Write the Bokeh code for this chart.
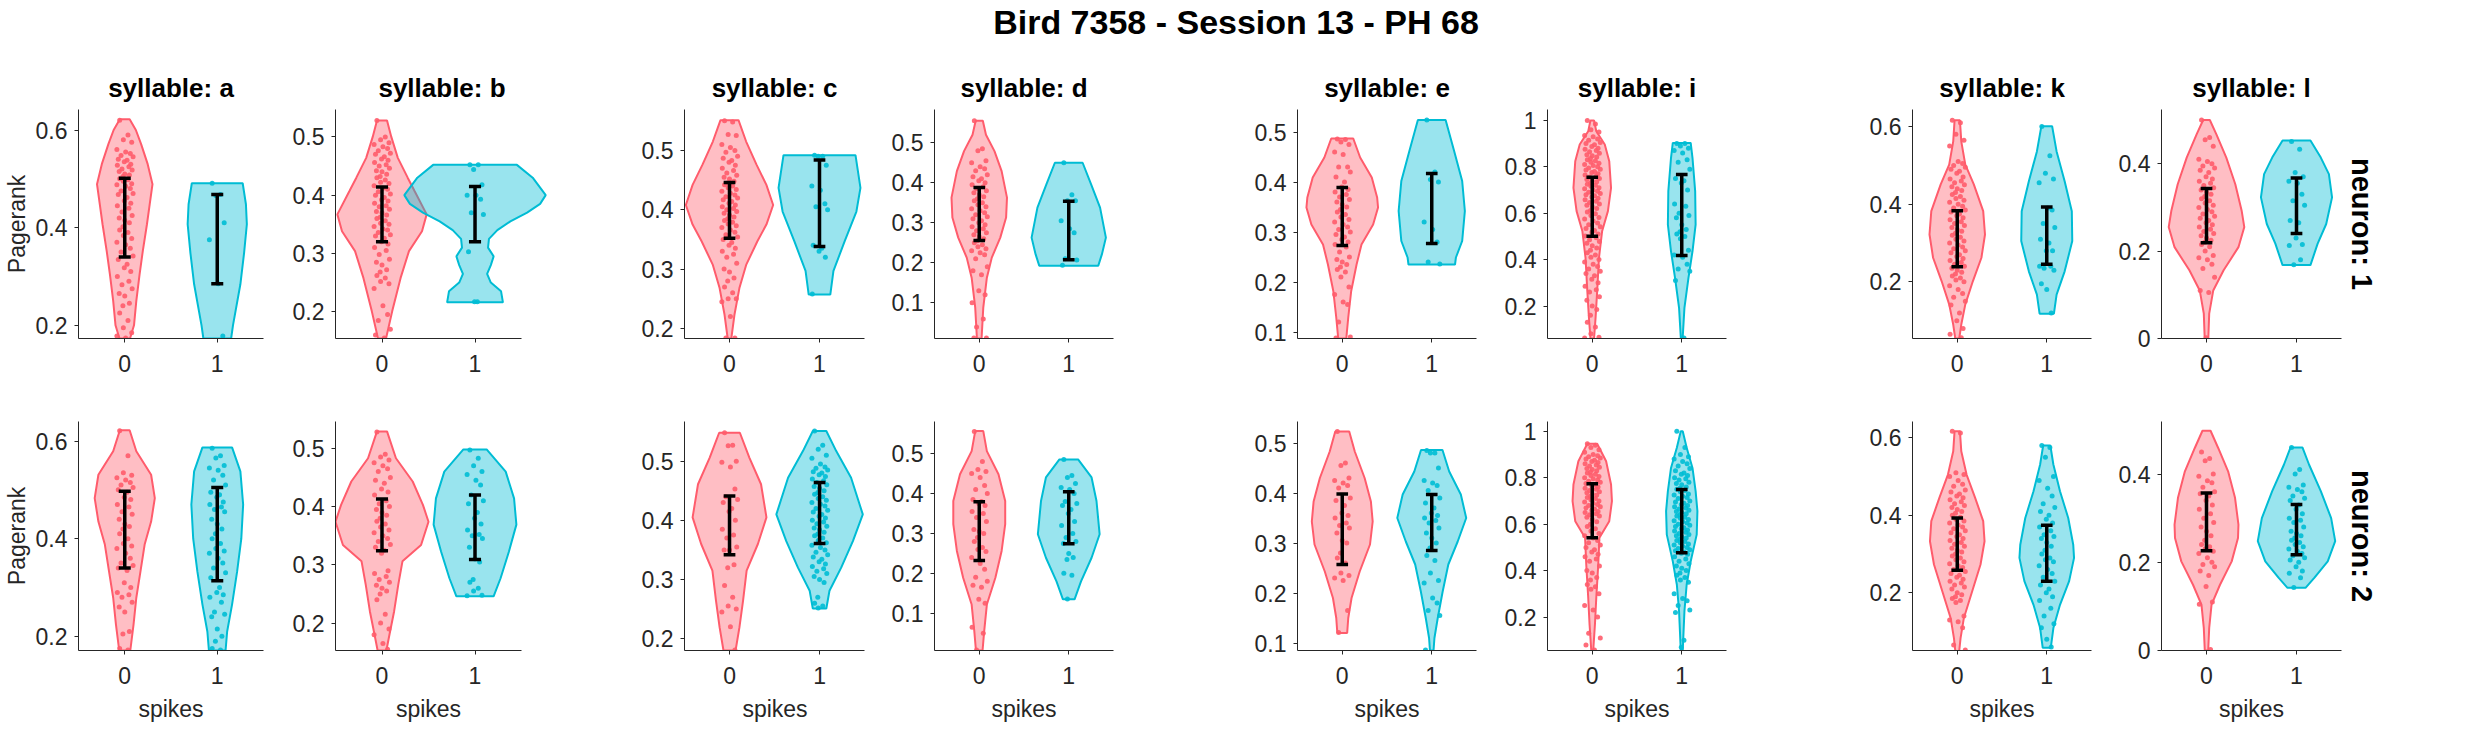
from bokeh.plotting import figure
from bokeh.layouts import column, row
from bokeh.models import Range1d, FixedTicker, CustomJSTickFormatter, Title
from bokeh.embed import file_html
from bokeh.resources import INLINE

SYLLABLES = ["a", "b", "c", "d", "e", "i", "k", "l"]
SPIKES = [0, 1]

# y extents and ticks of each syllable column, per neuron row
YLIM_N1 = [(0.173, 0.642), (0.154, 0.547), (0.183, 0.569), (0.011, 0.583),
           (0.087, 0.545), (0.06, 1.047), (0.054, 0.644), (0.0, 0.524)]
YLIM_N2 = [(0.171, 0.640), (0.153, 0.546), (0.180, 0.567), (0.007, 0.580),
           (0.085, 0.543), (0.056, 1.042), (0.051, 0.642), (0.0, 0.519)]
YTICKS = [[0.2, 0.4, 0.6], [0.2, 0.3, 0.4, 0.5], [0.2, 0.3, 0.4, 0.5],
          [0.1, 0.2, 0.3, 0.4, 0.5], [0.1, 0.2, 0.3, 0.4, 0.5],
          [0.2, 0.4, 0.6, 0.8, 1], [0.2, 0.4, 0.6], [0, 0.2, 0.4]]

# error bars (lower / upper) per syllable
ERR_LO_N1_S0 = [0.340, 0.320, 0.352, 0.256, 0.273, 0.501, 0.239, 0.219]
ERR_HI_N1_S0 = [0.501, 0.414, 0.446, 0.388, 0.389, 0.755, 0.383, 0.343]
ERR_LO_N1_S1 = [0.285, 0.320, 0.338, 0.208, 0.277, 0.418, 0.245, 0.240]
ERR_HI_N1_S1 = [0.468, 0.415, 0.484, 0.354, 0.417, 0.767, 0.393, 0.367]
ERR_LO_N2_S0 = [0.340, 0.324, 0.342, 0.232, 0.257, 0.541, 0.258, 0.226]
ERR_HI_N2_S0 = [0.497, 0.413, 0.441, 0.379, 0.398, 0.774, 0.393, 0.357]
ERR_LO_N2_S1 = [0.314, 0.309, 0.361, 0.274, 0.285, 0.477, 0.230, 0.217]
ERR_HI_N2_S1 = [0.505, 0.420, 0.464, 0.404, 0.397, 0.749, 0.374, 0.331]

# violin outlines: pagerank levels and half widths (in x units)
SHAPE_Y_N1_S0 = [
    [0.173, 0.20, 0.25, 0.304, 0.352, 0.407, 0.448, 0.489, 0.530, 0.571, 0.600, 0.622],
    [0.154, 0.201, 0.258, 0.304, 0.338, 0.367, 0.407, 0.430, 0.464, 0.50, 0.528],
    [0.183, 0.223, 0.268, 0.307, 0.347, 0.375, 0.408, 0.442, 0.476, 0.515, 0.551],
    [0.011, 0.088, 0.163, 0.213, 0.263, 0.313, 0.363, 0.429, 0.479, 0.52, 0.555],
    [0.087, 0.129, 0.182, 0.235, 0.275, 0.315, 0.349, 0.369, 0.409, 0.449, 0.487],
    [0.06, 0.149, 0.264, 0.407, 0.522, 0.609, 0.709, 0.824, 0.896, 0.953, 1.0],
    [0.054, 0.09, 0.142, 0.202, 0.262, 0.322, 0.382, 0.451, 0.502, 0.562, 0.616],
    [0.0, 0.057, 0.110, 0.156, 0.209, 0.255, 0.293, 0.353, 0.414, 0.467, 0.50],
]
SHAPE_W_N1_S0 = [
    [0.057, 0.10, 0.125, 0.16, 0.195, 0.24, 0.27, 0.30, 0.248, 0.177, 0.12, 0.053],
    [0.043, 0.11, 0.20, 0.29, 0.43, 0.48, 0.35, 0.276, 0.17, 0.10, 0.054],
    [0.02, 0.055, 0.11, 0.185, 0.31, 0.41, 0.485, 0.41, 0.30, 0.185, 0.10],
    [0.026, 0.045, 0.085, 0.14, 0.235, 0.30, 0.31, 0.25, 0.17, 0.075, 0.04],
    [0.045, 0.067, 0.10, 0.16, 0.215, 0.345, 0.40, 0.39, 0.33, 0.20, 0.123],
    [0.02, 0.037, 0.055, 0.075, 0.11, 0.175, 0.21, 0.19, 0.14, 0.045, 0.02],
    [0.022, 0.045, 0.09, 0.175, 0.27, 0.31, 0.29, 0.185, 0.09, 0.045, 0.03],
    [0.02, 0.03, 0.075, 0.19, 0.355, 0.42, 0.39, 0.32, 0.22, 0.11, 0.037],
]
SHAPE_Y_N1_S1 = [
    [0.173, 0.20, 0.284, 0.348, 0.407, 0.448, 0.491],
    [0.216, 0.235, 0.25, 0.265, 0.28, 0.295, 0.31, 0.325, 0.34, 0.355, 0.37, 0.385, 0.40, 0.43, 0.452],
    [0.257, 0.297, 0.347, 0.397, 0.437, 0.492],
    [0.193, 0.221, 0.263, 0.338, 0.396, 0.45],
    [0.235, 0.249, 0.282, 0.342, 0.402, 0.462, 0.524],
    [0.06, 0.192, 0.321, 0.436, 0.551, 0.695, 0.839, 0.903],
    [0.118, 0.167, 0.227, 0.305, 0.382, 0.459, 0.536, 0.601],
    [0.168, 0.217, 0.262, 0.323, 0.376, 0.414, 0.453],
]
SHAPE_W_N1_S1 = [
    [0.15, 0.17, 0.25, 0.29, 0.32, 0.31, 0.275],
    [0.30, 0.28, 0.17, 0.13, 0.17, 0.20, 0.14, 0.15, 0.24, 0.38, 0.56, 0.70, 0.76, 0.62, 0.45],
    [0.12, 0.155, 0.28, 0.41, 0.455, 0.40],
    [0.33, 0.37, 0.415, 0.35, 0.25, 0.155],
    [0.26, 0.27, 0.34, 0.37, 0.34, 0.25, 0.155],
    [0.01, 0.03, 0.075, 0.12, 0.155, 0.15, 0.12, 0.10],
    [0.08, 0.11, 0.2, 0.285, 0.28, 0.2, 0.11, 0.06],
    [0.155, 0.235, 0.33, 0.395, 0.36, 0.27, 0.155],
]
SHAPE_Y_N2_S0 = [
    [0.171, 0.224, 0.279, 0.333, 0.388, 0.435, 0.483, 0.531, 0.579, 0.622],
    [0.153, 0.18, 0.22, 0.266, 0.306, 0.334, 0.374, 0.403, 0.443, 0.483, 0.529],
    [0.18, 0.219, 0.264, 0.315, 0.36, 0.405, 0.461, 0.506, 0.548],
    [0.007, 0.055, 0.122, 0.189, 0.256, 0.323, 0.381, 0.448, 0.506, 0.556],
    [0.12, 0.15, 0.19, 0.243, 0.297, 0.343, 0.383, 0.43, 0.483, 0.523],
    [0.056, 0.168, 0.283, 0.426, 0.541, 0.613, 0.699, 0.771, 0.871, 0.946],
    [0.05, 0.083, 0.135, 0.204, 0.273, 0.333, 0.385, 0.445, 0.505, 0.565, 0.617],
    [0.0, 0.051, 0.104, 0.149, 0.202, 0.255, 0.285, 0.346, 0.406, 0.459, 0.498],
]
SHAPE_W_N2_S0 = [
    [0.06, 0.095, 0.125, 0.17, 0.215, 0.285, 0.325, 0.285, 0.125, 0.053],
    [0.047, 0.08, 0.13, 0.175, 0.22, 0.42, 0.50, 0.44, 0.33, 0.15, 0.054],
    [0.067, 0.11, 0.15, 0.19, 0.315, 0.41, 0.35, 0.22, 0.115],
    [0.037, 0.055, 0.085, 0.18, 0.25, 0.29, 0.29, 0.215, 0.085, 0.045],
    [0.055, 0.067, 0.104, 0.195, 0.31, 0.34, 0.32, 0.25, 0.14, 0.078],
    [0.011, 0.03, 0.045, 0.067, 0.08, 0.19, 0.22, 0.21, 0.155, 0.055],
    [0.022, 0.037, 0.074, 0.167, 0.26, 0.305, 0.29, 0.2, 0.104, 0.045, 0.03],
    [0.019, 0.03, 0.056, 0.15, 0.28, 0.35, 0.355, 0.317, 0.24, 0.13, 0.045],
]
SHAPE_Y_N2_S1 = [
    [0.171, 0.21, 0.265, 0.333, 0.40, 0.47, 0.538, 0.587],
    [0.246, 0.277, 0.323, 0.369, 0.414, 0.46, 0.498],
    [0.251, 0.281, 0.32, 0.365, 0.41, 0.472, 0.517, 0.551],
    [0.135, 0.18, 0.239, 0.298, 0.381, 0.44, 0.485],
    [0.085, 0.11, 0.15, 0.203, 0.257, 0.303, 0.35, 0.397, 0.443, 0.486],
    [0.056, 0.225, 0.34, 0.44, 0.555, 0.656, 0.742, 0.842, 0.929, 1.0],
    [0.058, 0.109, 0.169, 0.23, 0.29, 0.324, 0.393, 0.462, 0.531, 0.58],
    [0.142, 0.165, 0.202, 0.248, 0.30, 0.361, 0.421, 0.46],
]
SHAPE_W_N2_S1 = [
    [0.09, 0.107, 0.16, 0.215, 0.26, 0.28, 0.25, 0.16],
    [0.2, 0.275, 0.365, 0.445, 0.42, 0.33, 0.125],
    [0.075, 0.11, 0.24, 0.37, 0.48, 0.35, 0.185, 0.075],
    [0.065, 0.137, 0.255, 0.345, 0.31, 0.255, 0.104],
    [0.02, 0.03, 0.067, 0.122, 0.185, 0.29, 0.385, 0.325, 0.195, 0.12],
    [0.011, 0.03, 0.055, 0.10, 0.167, 0.175, 0.155, 0.12, 0.055, 0.011],
    [0.045, 0.074, 0.148, 0.25, 0.305, 0.296, 0.24, 0.148, 0.074, 0.04],
    [0.1, 0.2, 0.347, 0.43, 0.385, 0.27, 0.14, 0.067],
]

# individual pagerank values (dots)
POINTS_N1_S0 = [
    [0.62, 0.59, 0.58, 0.575, 0.56, 0.555, 0.552, 0.548, 0.545, 0.54, 0.538, 0.535, 0.53, 0.528,
     0.525, 0.52, 0.518, 0.515, 0.51, 0.508, 0.505, 0.50, 0.498, 0.495, 0.49, 0.488, 0.485, 0.48,
     0.475, 0.47, 0.468, 0.462, 0.455, 0.45, 0.445, 0.44, 0.432, 0.425, 0.42, 0.415, 0.41, 0.402,
     0.395, 0.39, 0.384, 0.378, 0.37, 0.365, 0.358, 0.35, 0.342, 0.335, 0.325, 0.318, 0.31, 0.30,
     0.29, 0.283, 0.275, 0.265, 0.26, 0.245, 0.24, 0.225, 0.21, 0.195, 0.185, 0.178, 0.174],
    [0.528, 0.50, 0.495, 0.49, 0.487, 0.483, 0.48, 0.476, 0.472, 0.47, 0.466, 0.462, 0.46, 0.456,
     0.452, 0.45, 0.446, 0.442, 0.44, 0.436, 0.432, 0.43, 0.426, 0.422, 0.42, 0.416, 0.412, 0.41,
     0.406, 0.402, 0.40, 0.396, 0.392, 0.39, 0.386, 0.382, 0.38, 0.376, 0.372, 0.37, 0.366, 0.362,
     0.36, 0.356, 0.352, 0.35, 0.346, 0.342, 0.34, 0.336, 0.332, 0.33, 0.326, 0.32, 0.316, 0.31,
     0.305, 0.298, 0.29, 0.285, 0.28, 0.272, 0.268, 0.262, 0.258, 0.252, 0.248, 0.24, 0.21, 0.195,
     0.185, 0.17, 0.16, 0.155],
    [0.55, 0.548, 0.527, 0.525, 0.51, 0.505, 0.50, 0.497, 0.49, 0.487, 0.483, 0.48, 0.475, 0.47,
     0.466, 0.462, 0.458, 0.455, 0.452, 0.448, 0.445, 0.442, 0.44, 0.437, 0.434, 0.431, 0.428, 0.425,
     0.422, 0.42, 0.417, 0.414, 0.411, 0.408, 0.405, 0.402, 0.40, 0.397, 0.394, 0.391, 0.388, 0.385,
     0.382, 0.379, 0.376, 0.373, 0.37, 0.366, 0.362, 0.358, 0.354, 0.35, 0.345, 0.34, 0.335, 0.33,
     0.325, 0.32, 0.31, 0.30, 0.295, 0.285, 0.28, 0.27, 0.26, 0.25, 0.25, 0.245, 0.22, 0.184, 0.184],
    [0.555, 0.485, 0.48, 0.455, 0.45, 0.44, 0.435, 0.43, 0.42, 0.415, 0.41, 0.405, 0.40, 0.395,
     0.39, 0.385, 0.38, 0.375, 0.37, 0.365, 0.36, 0.355, 0.35, 0.345, 0.34, 0.335, 0.33, 0.325,
     0.32, 0.315, 0.31, 0.305, 0.30, 0.295, 0.29, 0.285, 0.28, 0.275, 0.27, 0.265, 0.26, 0.255,
     0.25, 0.245, 0.24, 0.235, 0.23, 0.225, 0.22, 0.21, 0.19, 0.18, 0.17, 0.13, 0.12, 0.10, 0.06,
     0.04, 0.012, 0.012],
    [0.486, 0.485, 0.48, 0.475, 0.46, 0.455, 0.43, 0.43, 0.42, 0.41, 0.40, 0.39, 0.385, 0.38, 0.375,
     0.37, 0.365, 0.36, 0.355, 0.35, 0.345, 0.34, 0.335, 0.33, 0.325, 0.32, 0.315, 0.31, 0.305, 0.30,
     0.295, 0.29, 0.285, 0.28, 0.275, 0.27, 0.26, 0.25, 0.245, 0.24, 0.235, 0.23, 0.225, 0.22, 0.21,
     0.19, 0.175, 0.16, 0.155, 0.12, 0.09, 0.088],
    [1.0, 0.985, 0.96, 0.95, 0.935, 0.93, 0.92, 0.915, 0.905, 0.9, 0.895, 0.888, 0.88, 0.876, 0.87,
     0.865, 0.858, 0.852, 0.848, 0.842, 0.836, 0.83, 0.826, 0.82, 0.815, 0.81, 0.806, 0.8, 0.795,
     0.79, 0.786, 0.78, 0.776, 0.77, 0.765, 0.76, 0.756, 0.75, 0.745, 0.74, 0.736, 0.73, 0.725, 0.72,
     0.716, 0.71, 0.705, 0.7, 0.695, 0.69, 0.685, 0.68, 0.675, 0.67, 0.664, 0.658, 0.652, 0.646, 0.64,
     0.634, 0.628, 0.62, 0.612, 0.605, 0.598, 0.59, 0.582, 0.575, 0.566, 0.558, 0.55, 0.542, 0.534,
     0.526, 0.518, 0.51, 0.502, 0.494, 0.486, 0.478, 0.47, 0.46, 0.45, 0.44, 0.43, 0.42, 0.41, 0.4,
     0.39, 0.38, 0.37, 0.36, 0.35, 0.34, 0.33, 0.315, 0.3, 0.285, 0.27, 0.26, 0.24, 0.225, 0.2, 0.185,
     0.16, 0.13, 0.11, 0.08, 0.065, 0.062],
    [0.616, 0.61, 0.58, 0.565, 0.55, 0.51, 0.505, 0.50, 0.495, 0.49, 0.485, 0.48, 0.47, 0.465, 0.46,
     0.455, 0.45, 0.445, 0.44, 0.435, 0.43, 0.425, 0.42, 0.415, 0.41, 0.405, 0.40, 0.395, 0.39, 0.385,
     0.38, 0.375, 0.37, 0.365, 0.36, 0.355, 0.35, 0.345, 0.34, 0.335, 0.33, 0.325, 0.32, 0.315, 0.31,
     0.305, 0.30, 0.295, 0.29, 0.285, 0.28, 0.275, 0.27, 0.265, 0.26, 0.255, 0.25, 0.245, 0.24, 0.235,
     0.23, 0.225, 0.22, 0.215, 0.21, 0.205, 0.2, 0.19, 0.18, 0.17, 0.16, 0.15, 0.14, 0.12, 0.1, 0.08,
     0.065, 0.056],
    [0.50, 0.46, 0.455, 0.44, 0.41, 0.405, 0.40, 0.395, 0.39, 0.385, 0.38, 0.37, 0.365, 0.36, 0.355,
     0.35, 0.345, 0.34, 0.335, 0.33, 0.325, 0.32, 0.315, 0.31, 0.305, 0.30, 0.295, 0.29, 0.285, 0.28,
     0.275, 0.27, 0.265, 0.26, 0.255, 0.25, 0.245, 0.24, 0.235, 0.23, 0.225, 0.22, 0.215, 0.21, 0.2,
     0.19, 0.185, 0.18, 0.17, 0.16, 0.14, 0.11, 0.105, 0.002],
]
POINTS_N1_S1 = [
    [0.491, 0.468, 0.466, 0.41, 0.375, 0.285, 0.178],
    [0.452, 0.452, 0.444, 0.418, 0.40, 0.40, 0.393, 0.37, 0.367, 0.303, 0.217, 0.217],
    [0.492, 0.49, 0.49, 0.475, 0.44, 0.433, 0.41, 0.405, 0.40, 0.34, 0.335, 0.33, 0.32, 0.258],
    [0.45, 0.37, 0.355, 0.355, 0.305, 0.285, 0.275, 0.21, 0.207, 0.194],
    [0.524, 0.42, 0.405, 0.40, 0.32, 0.305, 0.28, 0.24, 0.236],
    [0.9, 0.9, 0.89, 0.88, 0.87, 0.86, 0.83, 0.82, 0.79, 0.75, 0.74, 0.73, 0.70, 0.64, 0.63, 0.60,
     0.59, 0.58, 0.55, 0.53, 0.52, 0.51, 0.50, 0.49, 0.44, 0.42, 0.41, 0.38, 0.36, 0.35, 0.31, 0.062],
    [0.6, 0.525, 0.48, 0.465, 0.455, 0.39, 0.385, 0.35, 0.34, 0.31, 0.30, 0.28, 0.28, 0.24, 0.24,
     0.235, 0.23, 0.195, 0.18, 0.12],
    [0.451, 0.433, 0.38, 0.37, 0.36, 0.355, 0.33, 0.315, 0.305, 0.27, 0.265, 0.23, 0.215, 0.213,
     0.18, 0.169],
]
POINTS_N2_S0 = [
    [0.621, 0.57, 0.535, 0.53, 0.525, 0.52, 0.515, 0.51, 0.505, 0.50, 0.495, 0.485, 0.48, 0.47,
     0.465, 0.455, 0.45, 0.44, 0.43, 0.425, 0.42, 0.41, 0.40, 0.39, 0.385, 0.38, 0.37, 0.36, 0.35,
     0.345, 0.34, 0.335, 0.31, 0.30, 0.29, 0.285, 0.28, 0.27, 0.26, 0.25, 0.21, 0.205, 0.175, 0.172],
    [0.528, 0.49, 0.485, 0.48, 0.475, 0.47, 0.465, 0.46, 0.45, 0.445, 0.44, 0.43, 0.425, 0.42, 0.41,
     0.405, 0.40, 0.395, 0.39, 0.385, 0.38, 0.375, 0.37, 0.365, 0.36, 0.355, 0.35, 0.345, 0.34, 0.335,
     0.33, 0.325, 0.32, 0.29, 0.285, 0.28, 0.275, 0.27, 0.265, 0.26, 0.255, 0.25, 0.24, 0.215, 0.2,
     0.19, 0.18, 0.165, 0.155],
    [0.548, 0.527, 0.526, 0.50, 0.498, 0.49, 0.453, 0.44, 0.435, 0.43, 0.42, 0.415, 0.40, 0.385,
     0.375, 0.37, 0.355, 0.35, 0.35, 0.325, 0.32, 0.29, 0.27, 0.255, 0.25, 0.245, 0.22, 0.181],
    [0.555, 0.48, 0.46, 0.455, 0.45, 0.44, 0.42, 0.41, 0.40, 0.385, 0.38, 0.375, 0.37, 0.355, 0.35,
     0.34, 0.33, 0.31, 0.305, 0.30, 0.29, 0.28, 0.265, 0.26, 0.255, 0.24, 0.225, 0.21, 0.19, 0.18,
     0.17, 0.165, 0.135, 0.125, 0.065, 0.05, 0.008],
    [0.523, 0.46, 0.455, 0.43, 0.425, 0.42, 0.415, 0.41, 0.39, 0.385, 0.375, 0.36, 0.355, 0.35, 0.34,
     0.335, 0.33, 0.32, 0.305, 0.30, 0.28, 0.27, 0.26, 0.24, 0.235, 0.23, 0.225, 0.165, 0.121],
    [0.946, 0.94, 0.93, 0.92, 0.91, 0.9, 0.895, 0.89, 0.885, 0.88, 0.875, 0.87, 0.865, 0.86, 0.855,
     0.85, 0.845, 0.84, 0.835, 0.83, 0.825, 0.82, 0.815, 0.81, 0.805, 0.8, 0.795, 0.79, 0.785, 0.78,
     0.775, 0.77, 0.765, 0.76, 0.755, 0.75, 0.745, 0.74, 0.735, 0.73, 0.725, 0.72, 0.715, 0.71, 0.705,
     0.7, 0.695, 0.69, 0.685, 0.68, 0.675, 0.67, 0.665, 0.66, 0.655, 0.65, 0.645, 0.64, 0.635, 0.63,
     0.62, 0.61, 0.6, 0.59, 0.58, 0.57, 0.56, 0.55, 0.54, 0.53, 0.52, 0.51, 0.5, 0.49, 0.48, 0.47,
     0.46, 0.45, 0.44, 0.42, 0.4, 0.39, 0.37, 0.36, 0.34, 0.33, 0.32, 0.3, 0.25, 0.23, 0.2, 0.13,
     0.11, 0.08, 0.058],
    [0.617, 0.612, 0.51, 0.505, 0.5, 0.49, 0.48, 0.475, 0.465, 0.46, 0.455, 0.45, 0.445, 0.44, 0.435,
     0.43, 0.425, 0.42, 0.415, 0.41, 0.405, 0.4, 0.395, 0.39, 0.385, 0.38, 0.375, 0.37, 0.365, 0.36,
     0.355, 0.35, 0.345, 0.34, 0.335, 0.33, 0.325, 0.32, 0.315, 0.31, 0.305, 0.3, 0.295, 0.29, 0.285,
     0.28, 0.275, 0.27, 0.265, 0.26, 0.255, 0.25, 0.245, 0.24, 0.235, 0.23, 0.225, 0.22, 0.215, 0.21,
     0.2, 0.195, 0.19, 0.185, 0.18, 0.175, 0.14, 0.13, 0.125, 0.11, 0.065, 0.052],
    [0.45, 0.435, 0.43, 0.40, 0.395, 0.385, 0.38, 0.37, 0.36, 0.355, 0.35, 0.34, 0.33, 0.32, 0.31,
     0.30, 0.29, 0.28, 0.27, 0.26, 0.25, 0.24, 0.235, 0.23, 0.225, 0.22, 0.21, 0.2, 0.195, 0.19,
     0.18, 0.17, 0.145, 0.11, 0.105, 0.002],
]
POINTS_N2_S1 = [
    [0.585, 0.57, 0.565, 0.55, 0.545, 0.54, 0.53, 0.52, 0.51, 0.495, 0.49, 0.485, 0.475, 0.47, 0.465,
     0.46, 0.455, 0.44, 0.43, 0.42, 0.41, 0.40, 0.39, 0.38, 0.375, 0.37, 0.36, 0.35, 0.34, 0.33,
     0.32, 0.30, 0.29, 0.285, 0.28, 0.27, 0.25, 0.245, 0.24, 0.215, 0.2, 0.19, 0.175, 0.172],
    [0.497, 0.483, 0.47, 0.46, 0.455, 0.445, 0.437, 0.42, 0.41, 0.405, 0.39, 0.38, 0.37, 0.36, 0.352,
     0.35, 0.345, 0.33, 0.31, 0.305, 0.275, 0.27, 0.26, 0.255, 0.248, 0.247],
    [0.551, 0.527, 0.52, 0.51, 0.505, 0.495, 0.49, 0.488, 0.485, 0.482, 0.48, 0.477, 0.474, 0.47,
     0.467, 0.464, 0.46, 0.457, 0.454, 0.45, 0.447, 0.444, 0.44, 0.437, 0.434, 0.43, 0.427, 0.424,
     0.42, 0.417, 0.414, 0.41, 0.407, 0.404, 0.4, 0.397, 0.394, 0.39, 0.387, 0.384, 0.38, 0.377,
     0.374, 0.37, 0.366, 0.362, 0.358, 0.354, 0.35, 0.346, 0.342, 0.338, 0.334, 0.33, 0.326, 0.322,
     0.318, 0.314, 0.31, 0.305, 0.3, 0.295, 0.27, 0.26, 0.255, 0.252],
    [0.485, 0.445, 0.44, 0.425, 0.415, 0.41, 0.40, 0.38, 0.375, 0.37, 0.36, 0.35, 0.33, 0.32, 0.30,
     0.29, 0.28, 0.275, 0.25, 0.24, 0.235, 0.20, 0.195, 0.136],
    [0.485, 0.48, 0.48, 0.45, 0.425, 0.42, 0.415, 0.405, 0.39, 0.38, 0.37, 0.36, 0.355, 0.35, 0.345,
     0.34, 0.33, 0.32, 0.31, 0.30, 0.29, 0.275, 0.265, 0.24, 0.225, 0.22, 0.19, 0.18, 0.165, 0.155,
     0.086],
    [1.0, 0.93, 0.9, 0.89, 0.88, 0.87, 0.86, 0.85, 0.84, 0.83, 0.82, 0.815, 0.81, 0.8, 0.795, 0.79,
     0.78, 0.775, 0.77, 0.76, 0.755, 0.75, 0.745, 0.74, 0.73, 0.725, 0.72, 0.715, 0.71, 0.7, 0.695,
     0.69, 0.685, 0.68, 0.675, 0.67, 0.665, 0.66, 0.655, 0.65, 0.645, 0.64, 0.635, 0.63, 0.625, 0.62,
     0.615, 0.61, 0.605, 0.6, 0.595, 0.59, 0.585, 0.58, 0.575, 0.57, 0.565, 0.56, 0.555, 0.55, 0.545,
     0.54, 0.535, 0.53, 0.525, 0.52, 0.515, 0.51, 0.505, 0.5, 0.495, 0.49, 0.485, 0.48, 0.475, 0.47,
     0.46, 0.45, 0.44, 0.43, 0.42, 0.41, 0.4, 0.39, 0.38, 0.37, 0.36, 0.35, 0.3, 0.28, 0.27, 0.25,
     0.23, 0.22, 0.1, 0.07],
    [0.58, 0.575, 0.55, 0.5, 0.49, 0.47, 0.45, 0.43, 0.42, 0.41, 0.40, 0.39, 0.38, 0.37, 0.36, 0.35,
     0.345, 0.34, 0.33, 0.32, 0.31, 0.30, 0.29, 0.285, 0.28, 0.27, 0.26, 0.25, 0.24, 0.23, 0.22,
     0.21, 0.20, 0.19, 0.18, 0.16, 0.14, 0.12, 0.11, 0.08, 0.06],
    [0.46, 0.41, 0.40, 0.375, 0.37, 0.365, 0.36, 0.35, 0.345, 0.34, 0.33, 0.32, 0.31, 0.30, 0.295,
     0.29, 0.28, 0.27, 0.265, 0.26, 0.255, 0.25, 0.245, 0.24, 0.235, 0.23, 0.225, 0.22, 0.215, 0.21,
     0.205, 0.2, 0.19, 0.18, 0.175, 0.165, 0.143],
]

SHAPE_Y = {(1, 0): SHAPE_Y_N1_S0, (1, 1): SHAPE_Y_N1_S1, (2, 0): SHAPE_Y_N2_S0, (2, 1): SHAPE_Y_N2_S1}
SHAPE_W = {(1, 0): SHAPE_W_N1_S0, (1, 1): SHAPE_W_N1_S1, (2, 0): SHAPE_W_N2_S0, (2, 1): SHAPE_W_N2_S1}
POINTS = {(1, 0): POINTS_N1_S0, (1, 1): POINTS_N1_S1, (2, 0): POINTS_N2_S0, (2, 1): POINTS_N2_S1}
ERR_LO = {(1, 0): ERR_LO_N1_S0, (1, 1): ERR_LO_N1_S1, (2, 0): ERR_LO_N2_S0, (2, 1): ERR_LO_N2_S1}
ERR_HI = {(1, 0): ERR_HI_N1_S0, (1, 1): ERR_HI_N1_S1, (2, 0): ERR_HI_N2_S0, (2, 1): ERR_HI_N2_S1}
YLIM = {1: YLIM_N1, 2: YLIM_N2}

# styling
COLORS = ["#FF5C6C", "#00BCD4"]
JITTER = [-0.055, 0.035, -0.015, 0.075, -0.085, 0.01, 0.06, -0.04, 0.09, -0.07, 0.025,
          -0.005, 0.065, -0.08, 0.045, -0.03, 0.08, -0.06, 0.0, 0.05, -0.02]
CAP = 0.065
FONT = "Liberation Sans"
INK = "#262626"

# panel geometry (pixels)
FRAME_W = [185, 186, 180, 179, 179, 179, 179, 180]
BORDER_L = [74, 60, 60, 60, 60, 60, 60, 60]
BORDER_R = [12, 103, 10, 124, 11, 126, 10, 58]
FRAME_H = 229


def draw_violin(p, center, ys, ws, pts, lo, hi, color):
    xs = [center - w for w in ws] + [center + w for w in reversed(ws)]
    yy = list(ys) + list(reversed(ys))
    p.patch(xs, yy, fill_color=color, fill_alpha=0.4, line_color=color, line_width=2)
    px = [center + JITTER[k % len(JITTER)] for k in range(len(pts))]
    p.scatter(px, pts, size=5, fill_color=color, fill_alpha=0.9, line_color=None)
    p.segment([center], [lo], [center], [hi], line_color="black", line_width=3.5)
    p.segment([center - CAP, center - CAP], [lo, hi], [center + CAP, center + CAP], [lo, hi],
              line_color="black", line_width=3.5)


def make_panel(neuron, j):
    # widen the frame if a violin pokes out past the right end of the axis
    xmax = max(s + max(SHAPE_W[(neuron, s)][j]) for s in SPIKES)
    ext = max(0.0, xmax + 0.03 - 1.5)
    extra = int(round(ext * FRAME_W[j] / 2.0))
    top = 57 if neuron == 1 else 33
    bottom = 50 if neuron == 1 else 81
    p = figure(frame_width=FRAME_W[j] + extra, frame_height=FRAME_H,
               x_range=Range1d(-0.5, 1.5 + ext), y_range=Range1d(*YLIM[neuron][j]),
               min_border_left=BORDER_L[j], min_border_right=BORDER_R[j] - extra,
               min_border_top=top, min_border_bottom=bottom,
               output_backend="svg", toolbar_location=None)
    p.xgrid.visible = False
    p.ygrid.visible = False
    p.outline_line_color = None

    for s in SPIKES:
        key = (neuron, s)
        draw_violin(p, s, SHAPE_Y[key][j], SHAPE_W[key][j], POINTS[key][j],
                    ERR_LO[key][j], ERR_HI[key][j], COLORS[s])

    p.xaxis.ticker = FixedTicker(ticks=SPIKES)
    p.xaxis.bounds = (-0.5, 1.5)
    p.yaxis.ticker = FixedTicker(ticks=YTICKS[j])
    fmt = CustomJSTickFormatter(code="return String(tick);")
    p.xaxis.formatter = fmt
    p.yaxis.formatter = fmt
    for ax in (p.xaxis, p.yaxis):
        ax.axis_line_color = INK
        ax.major_tick_line_color = INK
        ax.minor_tick_line_color = None
        ax.major_tick_out = 4
        ax.major_tick_in = 0
        ax.major_label_text_font = FONT
        ax.major_label_text_font_size = "23px"
        ax.major_label_text_color = INK
        ax.axis_label_text_font = FONT
        ax.axis_label_text_font_size = "23px"
        ax.axis_label_text_font_style = "normal"
        ax.axis_label_text_color = INK
    p.yaxis.major_label_standoff = 7
    p.xaxis.major_label_standoff = 12
    p.xaxis.axis_label_standoff = 9
    p.yaxis.axis_label_standoff = 3
    if j == 0:
        p.yaxis.axis_label = "Pagerank"
    if neuron == 2:
        p.xaxis.axis_label = "spikes"

    if neuron == 1:
        p.title.text = "syllable: " + SYLLABLES[j]
        p.title.align = "center"
        p.title.text_font = FONT
        p.title.text_font_size = "26px"
        p.title.text_font_style = "bold"
        p.title.text_color = "black"
        p.title.standoff = 14
    if j == len(SYLLABLES) - 1:
        p.add_layout(Title(text="neuron: %d" % neuron, align="center", text_font=FONT,
                           text_font_size="29px", text_font_style="bold",
                           text_color="black", standoff=8), "right")
    return p


head = figure(width=2471, height=52, output_backend="svg", toolbar_location=None,
              min_border=0, title="Bird 7358 - Session 13 - PH 68")
head.title.align = "center"
head.title.offset = 8
head.title.standoff = 0
head.title.text_font = FONT
head.title.text_font_size = "34px"
head.title.text_font_style = "bold"
head.title.text_color = "black"
head.axis.visible = False
head.grid.visible = False
head.outline_line_color = None

rows = [row([make_panel(n, j) for j in range(len(SYLLABLES))]) for n in (1, 2)]
layout = column(head, rows[0], rows[1])

open("out.html", "w").write(file_html(layout, INLINE))
